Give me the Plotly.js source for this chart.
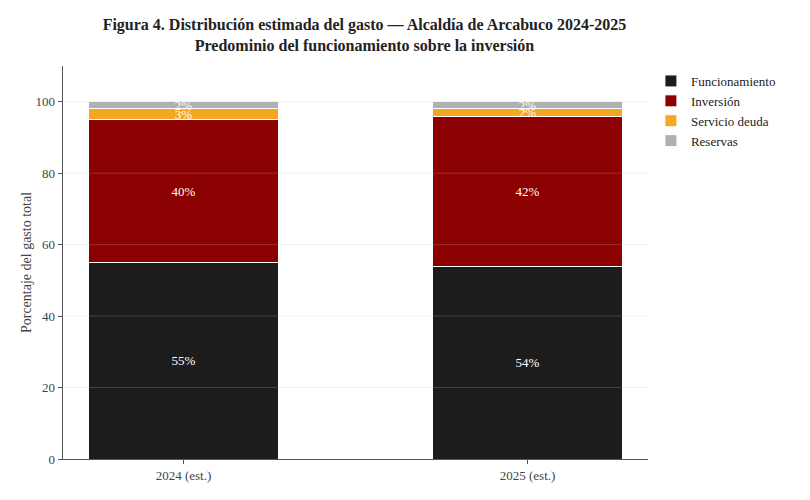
<!DOCTYPE html>
<html>
<head>
<meta charset="utf-8">
<script src="https://cdn.plot.ly/plotly-3.0.1.min.js"></script>
<style>body{margin:0;background:#fff}</style>
</head>
<body>
<div id="plot" style="width:810px;height:500px"></div>
<script>
const years = ['2024 (est.)', '2025 (est.)']
const funcionamiento = [55, 54]
const inversion = [40, 42]
const servicioDeuda = [3, 2]
const reservas = [2, 2]
const yTicks = [20, 40, 60, 80, 100]

const font = 'Liberation Serif, serif'

function serie(nombre, valores, color) {
  return {
    type: 'bar',
    name: nombre,
    x: years,
    y: valores,
    width: 0.55,
    marker: {color: color, line: {color: '#ffffff', width: 1}},
    text: valores.map(v => v + '%'),
    textposition: 'inside',
    insidetextanchor: 'middle',
    textfont: {color: '#ffffff', size: 13, family: font},
    constraintext: 'none',
    hoverinfo: 'skip'
  }
}

const data = [
  serie('Funcionamiento', funcionamiento, '#1c1c1c'),
  serie('Inversión', inversion, '#8b0000'),
  serie('Servicio deuda', servicioDeuda, '#f5a623'),
  serie('Reservas', reservas, '#b0b0b0')
]

// grid drawn over the bars, as in the reference
const gridShapes = yTicks.map(v => ({
  type: 'line', xref: 'paper', x0: 0, x1: 1, yref: 'y', y0: v, y1: v,
  line: {color: 'rgba(190,190,190,0.25)', width: 1}, layer: 'above'
}))

const layout = {
  width: 810,
  height: 500,
  barmode: 'stack',
  paper_bgcolor: '#ffffff',
  plot_bgcolor: '#ffffff',
  font: {family: font, size: 13, color: '#444444'},
  margin: {l: 63, r: 162, t: 66, b: 41},
  title: {
    text: '<b>Figura 4. Distribución estimada del gasto — Alcaldía de Arcabuco 2024-2025<br>Predominio del funcionamiento sobre la inversión</b>',
    font: {family: font, size: 16, color: '#222222'},
    x: 0.45, xanchor: 'center', y: 0.94, yanchor: 'top'
  },
  shapes: gridShapes,
  xaxis: {
    range: [-0.35, 1.35],
    showline: true, linecolor: '#555555', linewidth: 1.3,
    ticks: 'outside', ticklen: 4, tickcolor: '#555555',
    showgrid: false,
    tickfont: {size: 13, color: '#444444'}
  },
  yaxis: {
    range: [0, 110],
    tickvals: [0].concat(yTicks),
    showline: true, linecolor: '#555555', linewidth: 1.3,
    ticks: 'outside', ticklen: 4, tickcolor: '#555555',
    showgrid: false,
    zeroline: false,
    automargin: false,
    title: {text: 'Porcentaje del gasto total', font: {size: 14, color: '#444444'}, standoff: 0},
    tickfont: {size: 13, color: '#444444'}
  },
  legend: {
    x: 1.005, xanchor: 'left', y: 1.0, yanchor: 'top',
    font: {size: 13, color: '#222222'},
    traceorder: 'normal',
    tracegroupgap: 0,
    itemwidth: 30,
    bgcolor: 'rgba(0,0,0,0)'
  },
  showlegend: true
}

Plotly.newPlot('plot', data, layout, {displayModeBar: false, staticPlot: true})
</script>
</body>
</html>
